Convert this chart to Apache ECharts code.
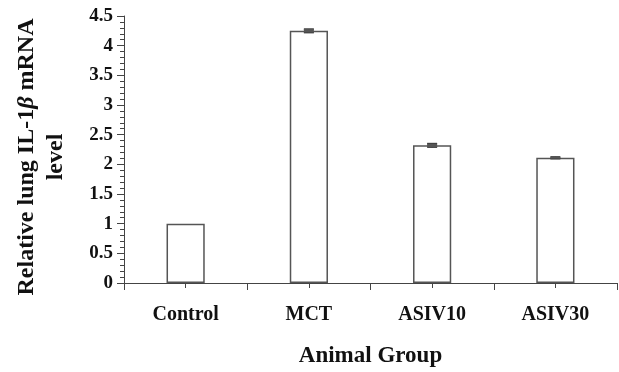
<!DOCTYPE html>
<html><head><meta charset="utf-8">
<script src="https://cdn.jsdelivr.net/npm/echarts@6/dist/echarts.min.js"></script>
<style>html,body{margin:0;padding:0;background:#fff}#c{width:619px;height:372px}</style>
</head><body><div id="c"></div>
<script>
const categories = ['Control', 'MCT', 'ASIV10', 'ASIV30'];
const values = [1.0, 4.25, 2.32, 2.11];
const errors = [0, 0.03, 0.03, 0.015];
const yTicks = [0, 0.5, 1, 1.5, 2, 2.5, 3, 3.5, 4, 4.5];
const yTitle = ['Relative lung IL-1', 'β', ' mRNA', 'level'];
const xTitle = 'Animal Group';

const chart = echarts.init(document.getElementById('c'));
const font = '"Liberation Serif", "Times New Roman", serif';
const axisColor = '#444';
chart.setOption({
  animation: false,
  grid: {left: 124, right: 2, top: 16, bottom: 89, containLabel: false, outerBoundsMode: 'none'},
  xAxis: [{
    type: 'category', data: categories,
    axisLine: {lineStyle: {color: axisColor, width: 1}},
    axisTick: {show: false},
    axisLabel: {fontFamily: font, fontWeight: 'bold', fontSize: 20, color: '#111', margin: 22},
    name: xTitle, nameLocation: 'middle', nameGap: 62,
    nameTextStyle: {fontFamily: font, fontWeight: 'bold', fontSize: 23, color: '#111'}
  }, {
    type: 'value', min: 0, max: 4, interval: 1, position: 'bottom',
    axisLine: {show: false}, splitLine: {show: false}, axisLabel: {show: false},
    axisTick: {show: true, length: 7, inside: false, lineStyle: {color: axisColor}},
    minorTick: {show: true, splitNumber: 2, length: 5, lineStyle: {color: axisColor}}
  }],
  yAxis: {
    type: 'value', min: yTicks[0], max: yTicks[yTicks.length - 1], interval: 0.5,
    axisLine: {show: true, lineStyle: {color: axisColor}},
    axisTick: {show: true, length: 7, lineStyle: {color: axisColor}},
    minorTick: {show: true, splitNumber: 5, length: 4, lineStyle: {color: axisColor}},
    splitLine: {show: false},
    axisLabel: {fontFamily: font, fontWeight: 'bold', fontSize: 19, color: '#111', margin: 11}
  },
  graphic: [{
    type: 'text', x: 41, y: 157, rotation: Math.PI / 2,
    style: {
      text: '{a|' + yTitle[0] + '}{b|' + yTitle[1] + '}{a|' + yTitle[2] + '}\n{a|' + yTitle[3] + '}',
      align: 'center', verticalAlign: 'middle',
      rich: {
        a: {fontFamily: font, fontWeight: 'bold', fontSize: 24, fill: '#111', lineHeight: 29, align: 'center'},
        b: {fontFamily: font, fontWeight: 'bold', fontStyle: 'italic', fontSize: 24, fill: '#111', lineHeight: 29}
      }
    }
  }],
  series: [{
    type: 'bar', data: values, barWidth: '31%',
    itemStyle: {color: '#fff', borderColor: '#555', borderWidth: 1.5}
  }, {
    type: 'custom', xAxisIndex: 0,
    data: values.map((v, i) => [i, v - errors[i], v + errors[i]]),
    renderItem: function (params, api) {
      const lo = api.coord([api.value(0), api.value(1)]);
      const hi = api.coord([api.value(0), api.value(2)]);
      if (api.value(2) - api.value(1) <= 0) return {type: 'group', children: []};
      const w = 5;
      const st = {stroke: '#333', lineWidth: 1.5};
      return {type: 'group', children: [
        {type: 'line', shape: {x1: hi[0], y1: hi[1], x2: lo[0], y2: lo[1]}, style: st},
        {type: 'line', shape: {x1: hi[0] - w, y1: hi[1], x2: hi[0] + w, y2: hi[1]}, style: st},
        {type: 'line', shape: {x1: lo[0] - w, y1: lo[1], x2: lo[0] + w, y2: lo[1]}, style: st},
        {type: 'rect', shape: {x: hi[0] - w, y: hi[1], width: 2 * w, height: lo[1] - hi[1]}, style: {fill: '#555'}}
      ]};
    },
    z: 5
  }]
});
</script></body></html>
